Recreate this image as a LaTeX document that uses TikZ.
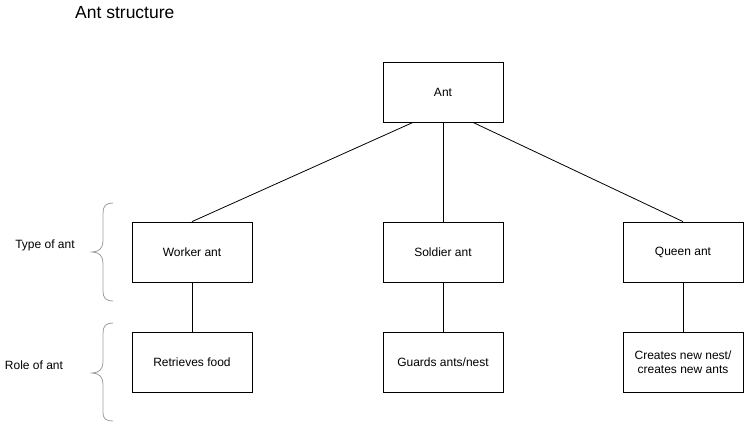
\documentclass[tikz,border=0pt]{standalone}
\usepackage{fontspec}
\setmainfont{Liberation Sans}
\begin{document}
\begin{tikzpicture}[x=1pt,y=-1pt,
  box/.style={draw=black,line width=0.8pt,minimum width=120pt,minimum height=60pt,inner sep=0pt,font=\fontsize{12}{14}\selectfont,align=center},
  lbl/.style={font=\fontsize{12}{14}\selectfont},
  conn/.style={draw=black,line width=0.8pt},
  brace/.style={draw=black!38,line width=0.8pt}]
\useasboundingbox (0,0) rectangle (744,424);
\node[anchor=west,inner sep=0pt,font=\fontsize{17.5}{20}\selectfont] (title) at (75,13) {Ant structure};
\node[box] (ant) at (443,92) {Ant};
\node[box] (worker) at (192,252) {Worker ant};
\node[box] (soldier) at (443,252) {Soldier ant};
\node[box] (queen) at (683,252) {Queen ant};
\node[box] (food) at (192,362) {Retrieves food};
\node[box] (guard) at (443,362) {Guards ants/nest};
\node[box] (nest) at (683,362) {Creates new nest/\\creates new ants};
\draw[conn] ([xshift=-30pt]ant.south) -- (worker.north);
\draw[conn] (ant.south) -- (soldier.north);
\draw[conn] ([xshift=30pt]ant.south) -- (queen.north);
\draw[conn] (worker) -- (food);
\draw[conn] (soldier) -- (guard);
\draw[conn] (queen) -- (nest);
\node[lbl] (type) at (45,245) {Type of ant};
\node[lbl] (role) at (34,365) {Role of ant};
\draw[brace] (113,203) .. controls (106,203) and (103,206) .. (103,213) -- (103,241)
  .. controls (103,248) and (99,252) .. (92,252) .. controls (99,252) and (103,256) .. (103,263)
  -- (103,291) .. controls (103,298) and (106,301) .. (113,301);
\draw[brace] (113,323) .. controls (106,323) and (103,326) .. (103,333) -- (103,362)
  .. controls (103,369) and (99,373) .. (92,373) .. controls (99,373) and (103,377) .. (103,384)
  -- (103,412) .. controls (103,419) and (106,421) .. (113,421);
\end{tikzpicture}
\end{document}
